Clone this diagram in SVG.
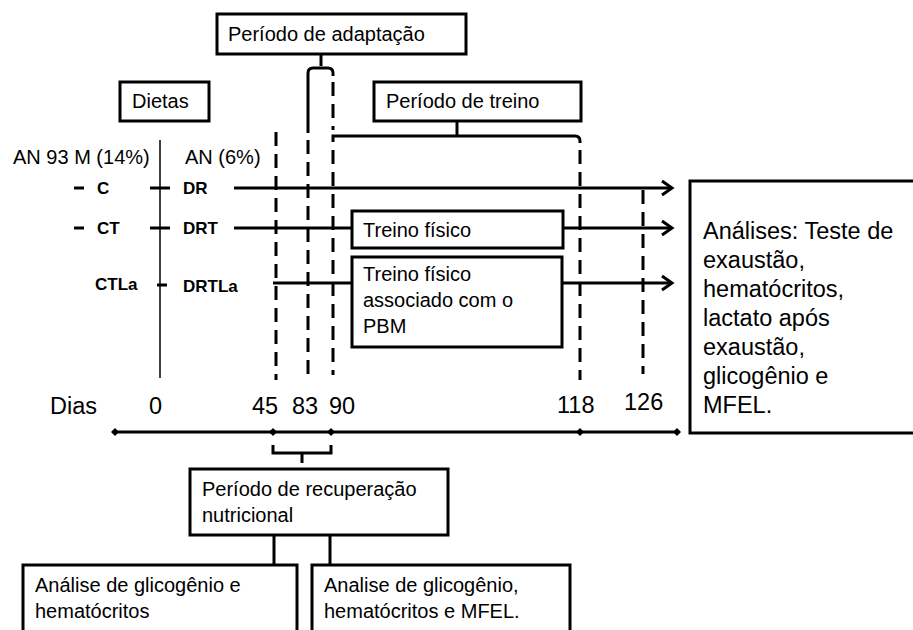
<svg xmlns="http://www.w3.org/2000/svg" width="913" height="630" viewBox="0 0 913 630">
<style>
.box{fill:#fff;stroke:#000;stroke-width:3}
.ln{fill:none;stroke:#000;stroke-width:3}
.thin{fill:none;stroke:#000;stroke-width:1.5}
.dash{fill:none;stroke:#000;stroke-width:3;stroke-dasharray:14 8}
.t{font-family:"Liberation Sans",Arial,sans-serif;font-size:20px;fill:#000}
.tb{font-family:"Liberation Sans",Arial,sans-serif;font-size:17px;font-weight:bold;fill:#000}
.tl{font-family:"Liberation Sans",Arial,sans-serif;font-size:23.5px;fill:#000}
.tx{font-family:"Liberation Sans",Arial,sans-serif;font-size:23.5px;fill:#000}
.dot{fill:#000}
</style>
<defs>
<marker id="arr" markerUnits="userSpaceOnUse" markerWidth="16" markerHeight="20" refX="13" refY="10" orient="auto">
<path d="M3,3 L13,10 L3,17" fill="none" stroke="#000" stroke-width="3"/>
</marker>
</defs>
<rect width="913" height="630" fill="#fff"/>

<g id="connectors">
<path class="ln" d="M321,54 V66"/>
<path class="ln" d="M308,133 V73 Q308,68 313,68 H328 Q333,68 333,73 V76"/>
<path class="dash" d="M333,82 V130"/>
<path class="ln" d="M457,121 V136"/>
<path class="ln" d="M333,142 V136 H575 Q580,136 580,141 V143"/>
<path class="dash" d="M276,132 V380"/>
<path class="dash" d="M308,140 V375"/>
<path class="dash" d="M333,150 V375"/>
<path class="dash" d="M580,150 V380"/>
<path class="dash" d="M643,190 V374"/>
<path class="thin" d="M160,140 V378"/>
<path class="ln" d="M150,188 H170 M150,228 H170 M157,285 H167"/>
<path class="ln" d="M74,188 H84 M74,228 H84"/>
<path class="ln" d="M234,188 H672" marker-end="url(#arr)"/>
<path class="ln" d="M234,228 H352"/>
<path class="ln" d="M563,228 H672" marker-end="url(#arr)"/>
<path class="ln" d="M273,283 H352"/>
<path class="ln" d="M562,283 H672" marker-end="url(#arr)"/>
<path class="ln" d="M115,432 H677"/>
<path class="dot" d="M115,428 L119,432 L115,436 L111,432Z M273,428 L277,432 L273,436 L269,432Z M331,428 L335,432 L331,436 L327,432Z M580,428 L584,432 L580,436 L576,432Z M677,428 L681,432 L677,436 L673,432Z"/>
<path class="ln" d="M273,445 V453 H331 V445 M302,453 V463"/>
<path class="ln" d="M274,535 V565 M330,535 V565"/>
</g>

<g id="n-adaptacao">
<rect class="box" x="217" y="14" width="249" height="40"/>
<text class="t" x="228" y="41" font-size="21">Período de adaptação</text>
</g>
<g id="n-dietas">
<rect class="box" x="120" y="82" width="89" height="39"/>
<text class="t" x="132" y="108" font-size="20.5">Dietas</text>
</g>
<g id="n-treino">
<rect class="box" x="374" y="82" width="207" height="39"/>
<text class="t" x="386" y="108" font-size="21">Período de treino</text>
</g>
<g id="n-labels">
<text class="t" x="13" y="164" font-size="19.5">AN 93 M (14%)</text>
<text class="t" x="185" y="164" font-size="17.5">AN (6%)</text>
<text class="tb" x="97" y="194">C</text>
<text class="tb" x="183" y="194">DR</text>
<text class="tb" x="97" y="234">CT</text>
<text class="tb" x="183" y="234">DRT</text>
<text class="tb" x="95" y="290">CTLa</text>
<text class="tb" x="183" y="292">DRTLa</text>
</g>
<g id="n-treinofisico">
<rect class="box" x="352" y="211" width="211" height="37"/>
<text class="t" x="363" y="237" font-size="19.5">Treino físico</text>
</g>
<g id="n-treinopbm">
<rect class="box" x="352" y="257" width="210" height="90"/>
<text class="t" x="363" y="281" font-size="19.5">Treino físico</text>
<text class="t" x="363" y="307" font-size="19.5">associado com o</text>
<text class="t" x="363" y="333" font-size="19.5">PBM</text>
</g>
<g id="n-dias">
<text class="tl" x="50" y="414">Dias</text>
<text class="tl" x="149" y="414">0</text>
<text class="tl" x="252" y="414">45</text>
<text class="tl" x="292" y="414">83</text>
<text class="tl" x="329" y="414">90</text>
<text class="tl" x="557" y="413">118</text>
<text class="tl" x="624" y="410">126</text>
</g>
<g id="n-analises">
<rect class="box" x="690" y="181" width="230" height="252"/>
<text class="tx" x="703" y="239">Análises: Teste de</text>
<text class="tx" x="703" y="268">exaustão,</text>
<text class="tx" x="703" y="297">hematócritos,</text>
<text class="tx" x="703" y="326">lactato após</text>
<text class="tx" x="703" y="355">exaustão,</text>
<text class="tx" x="703" y="384">glicogênio e</text>
<text class="tx" x="703" y="413">MFEL.</text>
</g>
<g id="n-recuperacao">
<rect class="box" x="190" y="469" width="258" height="66"/>
<text class="t" x="202" y="496" font-size="21">Período de recuperação</text>
<text class="t" x="202" y="522" font-size="21">nutricional</text>
</g>
<g id="n-analise1">
<rect class="box" x="23" y="565" width="274" height="80"/>
<text class="t" x="35" y="592">Análise de glicogênio e</text>
<text class="t" x="35" y="618">hematócritos</text>
</g>
<g id="n-analise2">
<rect class="box" x="312" y="565" width="258" height="80"/>
<text class="t" x="324" y="592">Analise de glicogênio,</text>
<text class="t" x="324" y="618">hematócritos e MFEL.</text>
</g>
</svg>
